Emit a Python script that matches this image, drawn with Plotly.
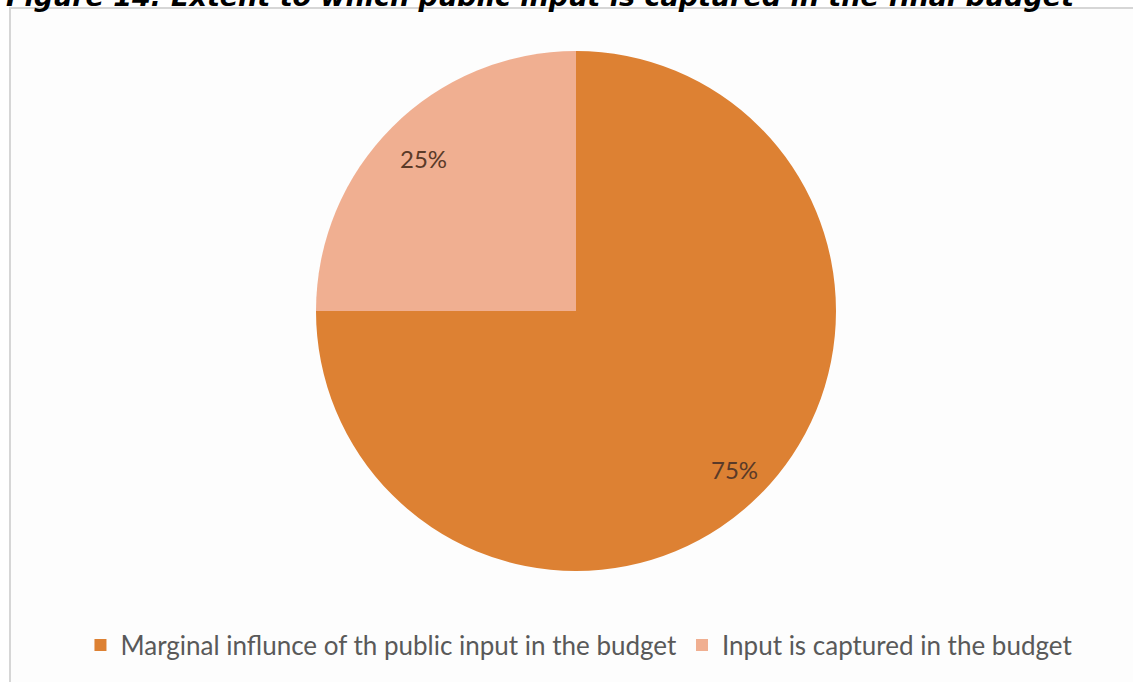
import math
import plotly.graph_objects as go

# Survey responses: extent to which public input is captured in the final budget
categories = ["Marginal influnce of th public input in the budget",
              "Input is captured in the budget"]
shares = [75, 25]
slice_colors = ["#DD8133", "#F0AF91"]
title_text = "Figure 14: Extent to which public input is captured in the final budget"

W, H = 1133, 682
# pie geometry in pixels
CX, CY, R = 576, 311, 260

fig = go.Figure(
    go.Pie(
        labels=categories,
        values=shares,
        sort=False,
        direction="clockwise",
        rotation=0,
        textinfo="none",
        hoverinfo="label+percent",
        marker=dict(colors=slice_colors, line=dict(width=0)),
        domain=dict(x=[(CX - R) / W, (CX + R) / W],
                    y=[1 - (CY + R) / H, 1 - (CY - R) / H]),
        showlegend=True,
    )
)

# percentage labels placed along each slice's bisector
label_radius = [0.86, 0.83]
total = sum(shares)
start = 0.0
annotations = []
for v, rf in zip(shares, label_radius):
    mid = (start + v / 2) / total * 2 * math.pi
    start += v
    px = CX + rf * R * math.sin(mid)
    py = CY - rf * R * math.cos(mid)
    annotations.append(dict(
        x=px / W, y=1 - py / H, xref="paper", yref="paper",
        text=f"{round(v / total * 100)}%", showarrow=False,
        font=dict(family="Lato, Carlito, sans-serif", size=24, color="#5a3a28"),
        xanchor="center", yanchor="middle",
    ))

annotations.append(dict(
    x=4 / W, y=1 + 4 / H, xref="paper", yref="paper",
    text=f"<b><i>{title_text}</i></b>", showarrow=False,
    font=dict(family="DejaVu Sans", size=27, color="#000000"),
    xanchor="left", yanchor="middle",
))

fig.update_layout(
    width=W, height=H,
    margin=dict(l=0, r=0, t=0, b=0),
    paper_bgcolor="#FFFFFF",
    plot_bgcolor="#FFFFFF",
    annotations=annotations,
    shapes=[dict(type="rect", xref="paper", yref="paper",
                 x0=10 / W, x1=1.02, y0=-0.02, y1=1 - 8 / H,
                 line=dict(color="#D6D6D6", width=2),
                 fillcolor="#FDFDFD", layer="below")],
    legend=dict(orientation="h", x=0.511, xanchor="center",
                y=1 - 645 / H, yanchor="middle",
                font=dict(family="Lato, Carlito, sans-serif", size=26, color="#595959"),
                itemwidth=30, bgcolor="rgba(0,0,0,0)"),
)

fig.write_html("out.html")
